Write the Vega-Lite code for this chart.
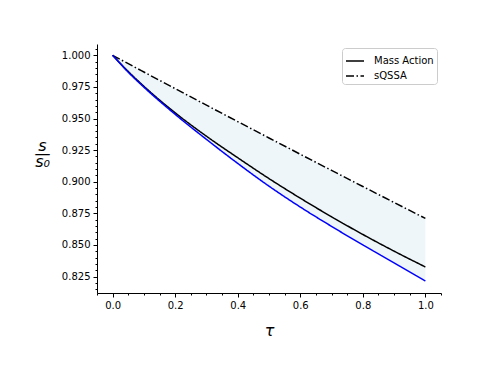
{
  "$schema": "https://vega.github.io/schema/vega-lite/v6.json",
  "width": 344,
  "height": 249,
  "autosize": {"type": "none"},
  "padding": {"left": 97, "top": 44, "right": 49, "bottom": 75},
  "background": "white",
  "config": {
    "view": {"stroke": null},
    "font": "DejaVu Sans",
    "axis": {
      "domainColor": "black",
      "domainWidth": 1,
      "tickColor": "black",
      "tickWidth": 1,
      "labelFont": "DejaVu Sans",
      "labelFontSize": 10,
      "labelColor": "black",
      "grid": false,
      "labelOverlap": false,
      "labelFlush": false
    }
  },
  "data": {
    "values": [
      {"t": 0.0, "Mass Action": 1.0, "sQSSA": 1.0, "Other": 1.0},
      {"t": 0.05, "Mass Action": 0.9872, "sQSSA": 0.99338, "Other": 0.9866},
      {"t": 0.1, "Mass Action": 0.9755, "sQSSA": 0.98679, "Other": 0.9748},
      {"t": 0.2, "Mass Action": 0.9545, "sQSSA": 0.97364, "Other": 0.9533},
      {"t": 0.3, "Mass Action": 0.936, "sQSSA": 0.96057, "Other": 0.9335},
      {"t": 0.4, "Mass Action": 0.919, "sQSSA": 0.94756, "Other": 0.9145},
      {"t": 0.5, "Mass Action": 0.9025, "sQSSA": 0.93463, "Other": 0.8965},
      {"t": 0.6, "Mass Action": 0.887, "sQSSA": 0.92176, "Other": 0.8800},
      {"t": 0.7, "Mass Action": 0.8723, "sQSSA": 0.90897, "Other": 0.8647},
      {"t": 0.8, "Mass Action": 0.8583, "sQSSA": 0.89624, "Other": 0.8500},
      {"t": 0.9, "Mass Action": 0.8451, "sQSSA": 0.88359, "Other": 0.8358},
      {"t": 1.0, "Mass Action": 0.8326, "sQSSA": 0.871, "Other": 0.8215}
    ]
  },
  "encoding": {
    "x": {
      "field": "t",
      "type": "quantitative",
      "scale": {"domain": [-0.05, 1.05], "nice": false, "zero": false},
      "axis": {
        "title": "τ",
        "titleFont": "DejaVu Sans",
        "titleFontStyle": "italic",
        "titleFontWeight": "normal",
        "titleFontSize": 16,
        "titleColor": "black",
        "titlePadding": 12,
        "values": [-0.05, 0, 0.05, 0.1, 0.15, 0.2, 0.25, 0.3, 0.35, 0.4, 0.45, 0.5, 0.55, 0.6, 0.65, 0.7, 0.75, 0.8, 0.85, 0.9, 0.95, 1.0, 1.05],
        "labelExpr": "abs(round(datum.value*100) % 20) == 0 ? format(datum.value, '.1f') : ''",
        "tickSize": {"condition": {"test": "abs(round(datum.value*100) % 20) == 0", "value": 4}, "value": 2},
        "labelPadding": 3
      }
    }
  },
  "layer": [
    {
      "mark": {"type": "area", "color": "#eef6fa", "opacity": 1, "interpolate": "monotone"},
      "encoding": {
        "y": {
          "field": "sQSSA",
          "type": "quantitative",
          "scale": {"domain": [0.812, 1.00895], "nice": false, "zero": false},
          "axis": {
            "title": ["s", "—", "s₀"],
            "titleAngle": 0,
            "titleAlign": "center",
            "titleBaseline": "alphabetic",
            "titleFont": "DejaVu Sans",
            "titleFontStyle": "italic",
            "titleFontWeight": "normal",
            "titleFontSize": 16,
            "titleLineHeight": 8,
            "titleColor": "black",
            "titleX": -55,
            "titleY": 106,
            "values": [0.815, 0.82, 0.825, 0.83, 0.835, 0.84, 0.845, 0.85, 0.855, 0.86, 0.865, 0.87, 0.875, 0.88, 0.885, 0.89, 0.895, 0.9, 0.905, 0.91, 0.915, 0.92, 0.925, 0.93, 0.935, 0.94, 0.945, 0.95, 0.955, 0.96, 0.965, 0.97, 0.975, 0.98, 0.985, 0.99, 0.995, 1.0, 1.005],
            "labelExpr": "abs(round(datum.value*1000) % 25) == 0 ? format(datum.value, '.3f') : ''",
            "tickSize": {"condition": {"test": "abs(round(datum.value*1000) % 25) == 0", "value": 4}, "value": 2},
            "labelPadding": 3
          }
        },
        "y2": {"field": "Other"}
      }
    },
    {
      "transform": [{"fold": ["sQSSA", "Mass Action", "Other"], "as": ["series", "value"]}],
      "mark": {"type": "line", "strokeWidth": 1.5, "interpolate": "monotone"},
      "encoding": {
        "y": {
          "field": "value",
          "type": "quantitative",
          "scale": {"domain": [0.812, 1.00895], "nice": false, "zero": false},
          "axis": {
            "title": ["s", "—", "s₀"],
            "titleAngle": 0,
            "titleAlign": "center",
            "titleBaseline": "alphabetic",
            "titleFont": "DejaVu Sans",
            "titleFontStyle": "italic",
            "titleFontWeight": "normal",
            "titleFontSize": 16,
            "titleLineHeight": 8,
            "titleColor": "black",
            "titleX": -55,
            "titleY": 106,
            "values": [0.815, 0.82, 0.825, 0.83, 0.835, 0.84, 0.845, 0.85, 0.855, 0.86, 0.865, 0.87, 0.875, 0.88, 0.885, 0.89, 0.895, 0.9, 0.905, 0.91, 0.915, 0.92, 0.925, 0.93, 0.935, 0.94, 0.945, 0.95, 0.955, 0.96, 0.965, 0.97, 0.975, 0.98, 0.985, 0.99, 0.995, 1.0, 1.005],
            "labelExpr": "abs(round(datum.value*1000) % 25) == 0 ? format(datum.value, '.3f') : ''",
            "tickSize": {"condition": {"test": "abs(round(datum.value*1000) % 25) == 0", "value": 4}, "value": 2},
            "labelPadding": 3
          }
        },
        "color": {
          "field": "series",
          "type": "nominal",
          "scale": {"domain": ["Mass Action", "sQSSA", "Other"], "range": ["black", "black", "#0000ff"]},
          "legend": {
            "values": ["Mass Action", "sQSSA"],
            "title": null,
            "orient": "top-right",
            "offset": 4,
            "padding": 3,
            "strokeColor": "#cccccc",
            "fillColor": "white",
            "cornerRadius": 3,
            "symbolType": "stroke",
            "symbolSize": 324,
            "symbolStrokeWidth": 1.5,
            "labelFont": "DejaVu Sans",
            "labelFontSize": 10,
            "labelColor": "black",
            "rowPadding": -2,
            "labelOffset": 9
          }
        },
        "strokeDash": {
          "field": "series",
          "type": "nominal",
          "scale": {"domain": ["Mass Action", "sQSSA", "Other"], "range": [[1, 0], [8, 2.5, 1.5, 2.5], [1, 0]]},
          "legend": {
            "values": ["Mass Action", "sQSSA"],
            "title": null,
            "orient": "top-right",
            "offset": 4,
            "padding": 3,
            "strokeColor": "#cccccc",
            "fillColor": "white",
            "cornerRadius": 3,
            "symbolType": "stroke",
            "symbolSize": 324,
            "symbolStrokeWidth": 1.5,
            "labelFont": "DejaVu Sans",
            "labelFontSize": 10,
            "labelColor": "black",
            "rowPadding": -2,
            "labelOffset": 9
          }
        }
      }
    }
  ]
}
